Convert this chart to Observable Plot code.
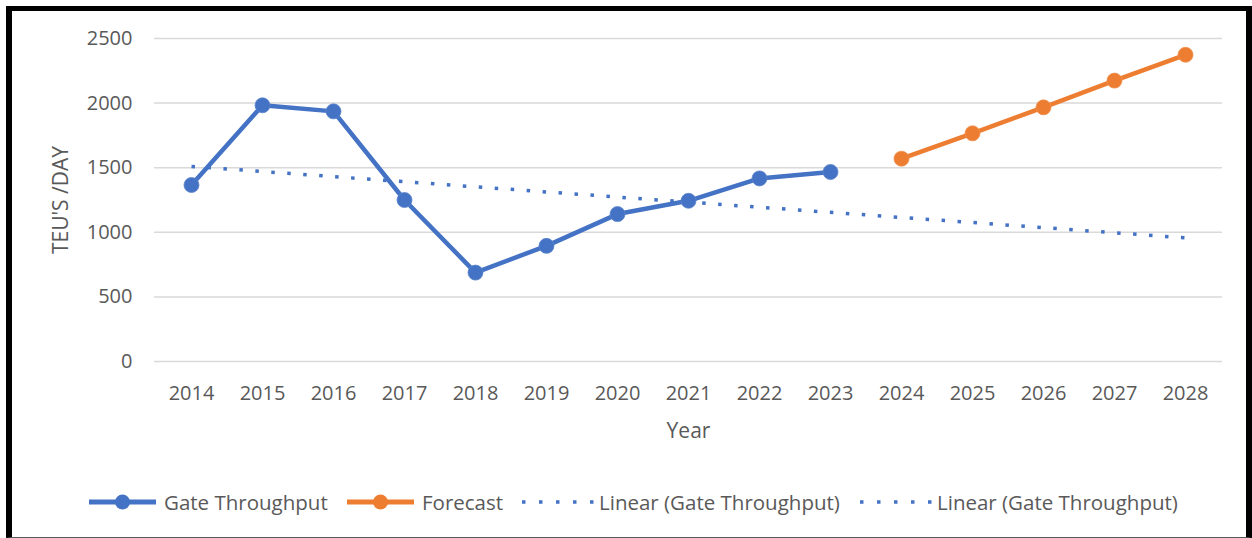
<!DOCTYPE html>
<html><head><meta charset="utf-8">
<script src="https://cdn.jsdelivr.net/npm/d3@7"></script>
<script src="https://cdn.jsdelivr.net/npm/@observablehq/plot@0.6"></script>
<style>
body{margin:0;background:#fff;}
#wrap{position:relative;width:1252px;height:538px;overflow:hidden;font-family:"Open Sans",sans-serif;color:#595959;background:#fff;}
#frame{position:absolute;left:6px;top:6px;width:1246px;height:532px;box-sizing:border-box;border-top:5px solid #000;border-left:6px solid #000;border-right:6px solid #000;border-bottom:1px solid #595959;pointer-events:none;}
#chart{position:absolute;left:0;top:0;}
.item{position:absolute;top:488px;height:28px;display:flex;align-items:center;font-size:20.5px;white-space:nowrap;}
</style></head>
<body>
<div id="wrap">
  <div id="chart"></div>
  <div id="legend"></div>
  <div id="frame"></div>
</div>
<script>
const years = [2014, 2015, 2016, 2017, 2018, 2019, 2020, 2021, 2022, 2023];
const gateThroughput = [1366, 1983, 1936, 1250, 688, 895, 1141, 1244, 1417, 1467];
const forecastYears = [2024, 2025, 2026, 2027, 2028];
const forecastValues = [1570, 1766, 1967, 2174, 2374];
const trendYears = [2014, 2028];
const trendValues = [1510, 957];
const allYears = [...years, ...forecastYears];
const yTicks = [0, 500, 1000, 1500, 2000, 2500];
const legendLabels = ["Gate Throughput", "Forecast", "Linear (Gate Throughput)", "Linear (Gate Throughput)"];

const BLUE = "#4472C4", ORANGE = "#ED7D31", TEXT = "#595959", GRID = "#D9D9D9";

const gate = years.map((y, i) => ({year: y, value: gateThroughput[i]}));
const fc = forecastYears.map((y, i) => ({year: y, value: forecastValues[i]}));
const trend = trendYears.map((y, i) => ({year: y, value: trendValues[i]}));

const chart = Plot.plot({
  width: 1252,
  height: 460,
  marginLeft: 154,
  marginRight: 30,
  marginTop: 38,
  marginBottom: 99,
  style: {fontFamily: '"Open Sans", sans-serif', fontSize: "20px", color: TEXT, background: "transparent"},
  x: {type: "point", domain: allYears, padding: 0.5},
  y: {domain: [0, 2500]},
  marks: [
    Plot.gridY(yTicks, {stroke: GRID, strokeOpacity: 1, strokeWidth: 1.5}),
    Plot.axisY(yTicks, {tickSize: 0, tickPadding: 22, tickFormat: d => String(d), label: null, fontSize: 20}),
    Plot.axisX(allYears, {tickSize: 0, tickPadding: 24, tickFormat: d => String(d), label: null, fontSize: 20}),
    Plot.text(["Year"], {frameAnchor: "bottom", dy: 70, lineAnchor: "middle", fontSize: 21, fill: TEXT}),
    Plot.text(["TEU'S /DAY"], {frameAnchor: "left", dx: -93, rotate: -90, lineAnchor: "middle", textAnchor: "middle", fontSize: 21, fill: TEXT}),
    Plot.line(gate, {x: "year", y: "value", stroke: BLUE, strokeWidth: 4.5}),
    Plot.dot(gate, {x: "year", y: "value", r: 7.5, fill: BLUE, stroke: "#5b84cc", strokeWidth: 0.8}),
    Plot.line(fc, {x: "year", y: "value", stroke: ORANGE, strokeWidth: 4.5}),
    Plot.dot(fc, {x: "year", y: "value", r: 7.5, fill: ORANGE, stroke: "#f08f4c", strokeWidth: 0.8}),
    Plot.line(trend, {x: "year", y: "value", stroke: BLUE, strokeWidth: 3.5, strokeDasharray: "3.5,12.5", strokeLinecap: "butt"})
  ]
});
document.getElementById("chart").appendChild(chart);

// Legend
const legend = document.getElementById("legend");
const lefts = [89, 347, 522, 860];
const kinds = ["blue", "orange", "dot", "dot"];
legendLabels.forEach((lab, i) => {
  const div = document.createElement("div");
  div.className = "item";
  div.style.left = lefts[i] + "px";
  const ns = "http://www.w3.org/2000/svg";
  const svg = document.createElementNS(ns, "svg");
  const w = kinds[i] === "dot" ? 72 : 67;
  svg.setAttribute("width", w); svg.setAttribute("height", 20);
  svg.style.marginRight = (kinds[i] === "dot" ? 5 : 8) + "px";
  if (kinds[i] === "dot") {
    const l = document.createElementNS(ns, "line");
    l.setAttribute("x1", 0); l.setAttribute("x2", 72); l.setAttribute("y1", 10); l.setAttribute("y2", 10);
    l.setAttribute("stroke", BLUE); l.setAttribute("stroke-width", 3.5); l.setAttribute("stroke-dasharray", "3.5,13.5");
    svg.appendChild(l);
  } else {
    const c = kinds[i] === "blue" ? BLUE : ORANGE;
    const l = document.createElementNS(ns, "line");
    l.setAttribute("x1", 0); l.setAttribute("x2", 67); l.setAttribute("y1", 10); l.setAttribute("y2", 10);
    l.setAttribute("stroke", c); l.setAttribute("stroke-width", 5);
    svg.appendChild(l);
    const ci = document.createElementNS(ns, "circle");
    ci.setAttribute("cx", 33.5); ci.setAttribute("cy", 10); ci.setAttribute("r", 7.5); ci.setAttribute("fill", c);
    svg.appendChild(ci);
  }
  div.appendChild(svg);
  const span = document.createElement("span");
  span.textContent = lab;
  div.appendChild(span);
  legend.appendChild(div);
});
</script>
</body></html>
